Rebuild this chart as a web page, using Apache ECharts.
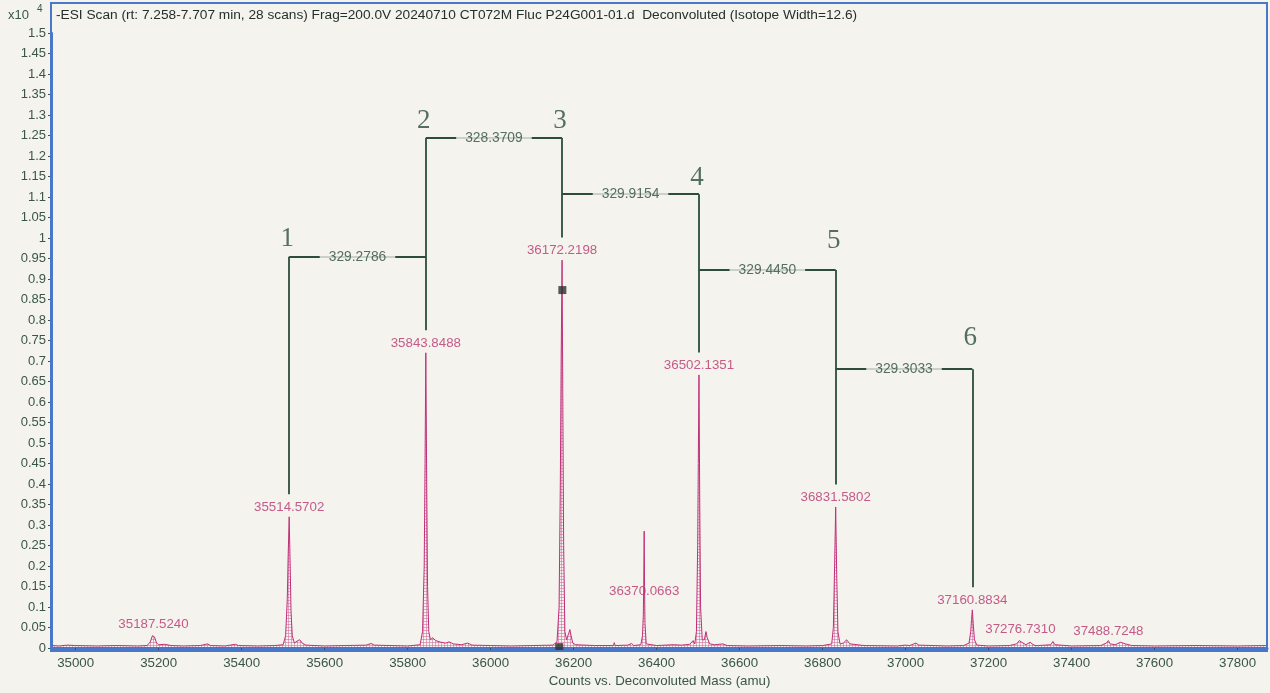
<!DOCTYPE html>
<html>
<head>
<meta charset="utf-8">
<title>Deconvoluted ESI spectrum</title>
<script src="https://cdn.jsdelivr.net/npm/echarts@6/dist/echarts.min.js"></script>
<style>
  html, body { margin: 0; padding: 0; background: #f4f3ee; }
  #chart { width: 1270px; height: 693px; }
</style>
</head>
<body>
<div id="chart"></div>
<script>
// ---- data (intensity in units of 10^4 counts) ----
const titleText = '-ESI Scan (rt: 7.258-7.707 min, 28 scans) Frag=200.0V 20240710 CT072M Fluc P24G001-01.d  Deconvoluted (Isotope Width=12.6)';
const xAxisTitle = 'Counts vs. Deconvoluted Mass (amu)';
const yScaleText = 'x10';
const yScaleExp = '4';

// deconvoluted profile: [mass (amu), intensity]
const profile = [
  [34943, 0.006], [34960, 0.005], [34980, 0.007], [35000, 0.006], [35050, 0.005],
  [35100, 0.006], [35150, 0.005], [35172, 0.006], [35180, 0.015], [35185, 0.030],
  [35187.524, 0.034], [35190, 0.027], [35195, 0.012], [35200, 0.008], [35215, 0.009],
  [35230, 0.006], [35260, 0.005], [35300, 0.006], [35318, 0.010], [35325, 0.006],
  [35360, 0.005], [35385, 0.009], [35392, 0.006], [35440, 0.005], [35480, 0.006],
  [35500, 0.008], [35506, 0.030], [35510, 0.120], [35512, 0.220], [35514.5702, 0.320],
  [35517, 0.200], [35519, 0.090], [35522, 0.030], [35527, 0.012], [35535, 0.018],
  [35540, 0.020], [35546, 0.012], [35555, 0.007], [35600, 0.005], [35650, 0.006],
  [35700, 0.007], [35712, 0.011], [35720, 0.007], [35760, 0.006], [35800, 0.005],
  [35830, 0.008], [35836, 0.040], [35840, 0.200], [35842, 0.450], [35843.8488, 0.720],
  [35846, 0.400], [35848, 0.150], [35851, 0.040], [35855, 0.020], [35860, 0.025],
  [35868, 0.018], [35880, 0.014], [35892, 0.012], [35900, 0.015], [35910, 0.010],
  [35930, 0.008], [35945, 0.012], [35955, 0.007], [36000, 0.006], [36050, 0.005],
  [36100, 0.006], [36150, 0.007], [36160, 0.015], [36165, 0.100], [36168, 0.400],
  [36170, 0.700], [36172.2198, 0.946], [36174, 0.600], [36176, 0.250], [36179, 0.040],
  [36183, 0.020], [36188, 0.035], [36191, 0.045], [36194, 0.030], [36198, 0.012],
  [36205, 0.008], [36250, 0.006], [36296, 0.006], [36298, 0.013], [36300, 0.006],
  [36330, 0.007], [36340, 0.011], [36345, 0.006], [36362, 0.008], [36366, 0.030],
  [36368, 0.080], [36369, 0.150], [36370.0663, 0.285], [36371, 0.150], [36372, 0.060],
  [36375, 0.010], [36400, 0.006], [36440, 0.008], [36460, 0.007], [36480, 0.009],
  [36488, 0.018], [36492, 0.010], [36496, 0.040], [36499, 0.250], [36500.5, 0.450],
  [36502.1351, 0.666], [36504, 0.350], [36506, 0.100], [36510, 0.020], [36515, 0.020],
  [36519, 0.040], [36522, 0.025], [36528, 0.010], [36540, 0.008], [36560, 0.010],
  [36570, 0.006], [36620, 0.005], [36700, 0.006], [36760, 0.005], [36800, 0.006],
  [36822, 0.010], [36826, 0.050], [36829, 0.200], [36831.5802, 0.344], [36834, 0.180],
  [36837, 0.040], [36842, 0.010], [36850, 0.012], [36858, 0.020], [36866, 0.010],
  [36900, 0.006], [36980, 0.005], [37000, 0.007], [37010, 0.006], [37025, 0.012],
  [37032, 0.007], [37100, 0.005], [37140, 0.006], [37153, 0.012], [37157, 0.040],
  [37159, 0.070], [37160.8834, 0.093], [37163, 0.060], [37166, 0.020], [37172, 0.007],
  [37200, 0.005], [37250, 0.006], [37268, 0.010], [37274, 0.018], [37276.731, 0.022],
  [37280, 0.014], [37290, 0.008], [37300, 0.014], [37305, 0.010], [37312, 0.006],
  [37320, 0.006], [37350, 0.008], [37355, 0.016], [37360, 0.008], [37400, 0.005],
  [37470, 0.006], [37484, 0.012], [37488.7248, 0.018], [37493, 0.010], [37505, 0.008],
  [37518, 0.014], [37530, 0.010], [37545, 0.006], [37600, 0.005], [37700, 0.006],
  [37800, 0.005], [37871, 0.006]
];

// labelled centroid peaks
const peakMasses  = [35187.5240, 35514.5702, 35843.8488, 36172.2198, 36370.0663, 36502.1351, 36831.5802, 37160.8834, 37276.7310, 37488.7248];
const peakHeights = [0.034, 0.320, 0.720, 0.946, 0.285, 0.666, 0.344, 0.093, 0.022, 0.018];

// charge-ladder series 1..6 and their mass spacings
const ladderMasses = [35514.5702, 35843.8488, 36172.2198, 36502.1351, 36831.5802, 37160.8834];
const ladderNames  = ['1', '2', '3', '4', '5', '6'];
const spacingLabels = ['329.2786', '328.3709', '329.9154', '329.4450', '329.3033'];
const spacingLevels = [0.954, 1.244, 1.107, 0.922, 0.680];

// cursor markers
const cursorMarks = [[36172.9, 0.873], [36165.5, 0.002]];

// ---- layout / style ----
const BG = '#f4f3ee';
const FRAME = '#4a78c8';
const TRACE = '#c0307a';
const LABEL = '#b8336e';
const INK = '#2c4d3c';
const AXIS_TXT = '#3a5647';
const numberLift = [20, 20, 20, 19, 32, 34];
const bracketGap = 0.055;      // gap between a peak top and its bracket leg
const labelOverride = { 4: { position: 'inside', offset: [0, 60] } };

// hatched fill under the trace
function hatch() {
  const c = document.createElement('canvas');
  c.width = 3; c.height = 3;
  const g = c.getContext('2d');
  g.fillStyle = 'rgba(192,48,122,0.55)';
  g.fillRect(0, 0, 3, 1);
  g.fillRect(0, 0, 1, 3);
  return c;
}

// bracket geometry built from the ladder masses and spacing levels
const legTop = ladderMasses.map((m, i) => {
  const a = i > 0 ? spacingLevels[i - 1] : -Infinity;
  const b = i < spacingLevels.length ? spacingLevels[i] : -Infinity;
  return Math.max(a, b);
});
const legBottom = ladderMasses.map(m => peakHeights[peakMasses.indexOf(m)] + bracketGap);
const bracketSegs = [];
ladderMasses.forEach((m, i) => bracketSegs.push({ coords: [[m, legBottom[i]], [m, legTop[i]]] }));
spacingLevels.forEach((lv, i) => bracketSegs.push({ coords: [[ladderMasses[i], lv], [ladderMasses[i + 1], lv]] }));

const spacingPoints = spacingLevels.map((lv, i) => ({
  value: [(ladderMasses[i] + ladderMasses[i + 1]) / 2, lv],
  label: { formatter: spacingLabels[i] }
}));
const ladderPoints = ladderMasses.map((m, i) => ({
  value: [m, legTop[i]],
  label: { formatter: ladderNames[i], offset: [-2, -numberLift[i] + 21] }
}));
const peakPoints = peakMasses.map((m, i) => {
  const p = { value: [m, peakHeights[i]], label: { formatter: m.toFixed(4) } };
  if (labelOverride[i]) Object.assign(p.label, labelOverride[i]);
  return p;
});

const chart = echarts.init(document.getElementById('chart'), null, { renderer: 'canvas' });
chart.setOption({
  backgroundColor: BG,
  animation: false,
  grid: { left: 52, right: 3, top: 33, bottom: 45 },
  xAxis: {
    type: 'value',
    min: 34943, max: 37871,
    splitNumber: 15,
    name: xAxisTitle,
    nameLocation: 'middle',
    nameGap: 26,
    nameTextStyle: { color: AXIS_TXT, fontFamily: 'Liberation Sans', fontSize: 13.3 },
    axisLine: { lineStyle: { color: FRAME, width: 3 } },
    axisTick: { show: true, length: 4, lineStyle: { color: AXIS_TXT } },
    axisLabel: {
      color: AXIS_TXT, fontFamily: 'Liberation Sans', fontSize: 13.3, margin: 9,
      showMinLabel: false, showMaxLabel: false,
      formatter: v => String(v)
    },
    splitLine: { show: false }
  },
  yAxis: {
    type: 'value',
    min: 0, max: 1.5, interval: 0.05,
    axisLine: { show: true, lineStyle: { color: FRAME, width: 2 } },
    axisTick: { show: true, length: 4, lineStyle: { color: AXIS_TXT } },
    axisLabel: { color: AXIS_TXT, fontFamily: 'Liberation Sans', fontSize: 13, margin: 6 },
    splitLine: { show: false }
  },
  graphic: [
    { type: 'rect', shape: { x: 51, y: 3, width: 1216, height: 648 }, style: { fill: null, stroke: FRAME, lineWidth: 2 }, silent: true, z: 10 },
    { type: 'text', left: 56, top: 8, style: { text: titleText, fill: '#25302b', font: '13.7px "Liberation Sans"' }, z: 11 },
    { type: 'text', left: 8, top: 9, style: { text: yScaleText, fill: AXIS_TXT, font: '13px "Liberation Sans"' }, z: 11 },
    { type: 'text', left: 37, top: 4, style: { text: yScaleExp, fill: AXIS_TXT, font: '10px "Liberation Sans"' }, z: 11 }
  ],
  series: [
    {
      name: 'profile',
      type: 'line',
      data: profile,
      symbol: 'none',
      lineStyle: { color: TRACE, width: 1 },
      areaStyle: { color: { image: hatch(), repeat: 'repeat' }, origin: 'start' },
      z: 3
    },
    {
      name: 'brackets',
      type: 'lines',
      coordinateSystem: 'cartesian2d',
      data: bracketSegs,
      lineStyle: { color: INK, width: 1.8, opacity: 1 },
      z: 4
    },
    {
      name: 'spacings',
      type: 'scatter',
      data: spacingPoints,
      symbolSize: 0,
      label: {
        show: true, position: 'inside', color: INK, fontFamily: 'Liberation Sans', fontSize: 13.8,
        backgroundColor: BG, padding: [2, 9]
      },
      z: 5
    },
    {
      name: 'ladder',
      type: 'scatter',
      data: ladderPoints,
      symbolSize: 0,
      label: { show: true, position: 'top', color: INK, fontFamily: 'Liberation Serif', fontSize: 27 },
      z: 5
    },
    {
      name: 'peaks',
      type: 'scatter',
      data: peakPoints,
      symbolSize: 0,
      label: { show: true, position: 'top', distance: 3, color: LABEL, fontFamily: 'Liberation Sans', fontSize: 13.3 },
      z: 6
    },
    {
      name: 'cursor',
      type: 'scatter',
      data: cursorMarks,
      symbol: 'rect',
      symbolSize: 8,
      itemStyle: { color: '#2b2f2e' },
      z: 7
    }
  ]
});
</script>
</body>
</html>
